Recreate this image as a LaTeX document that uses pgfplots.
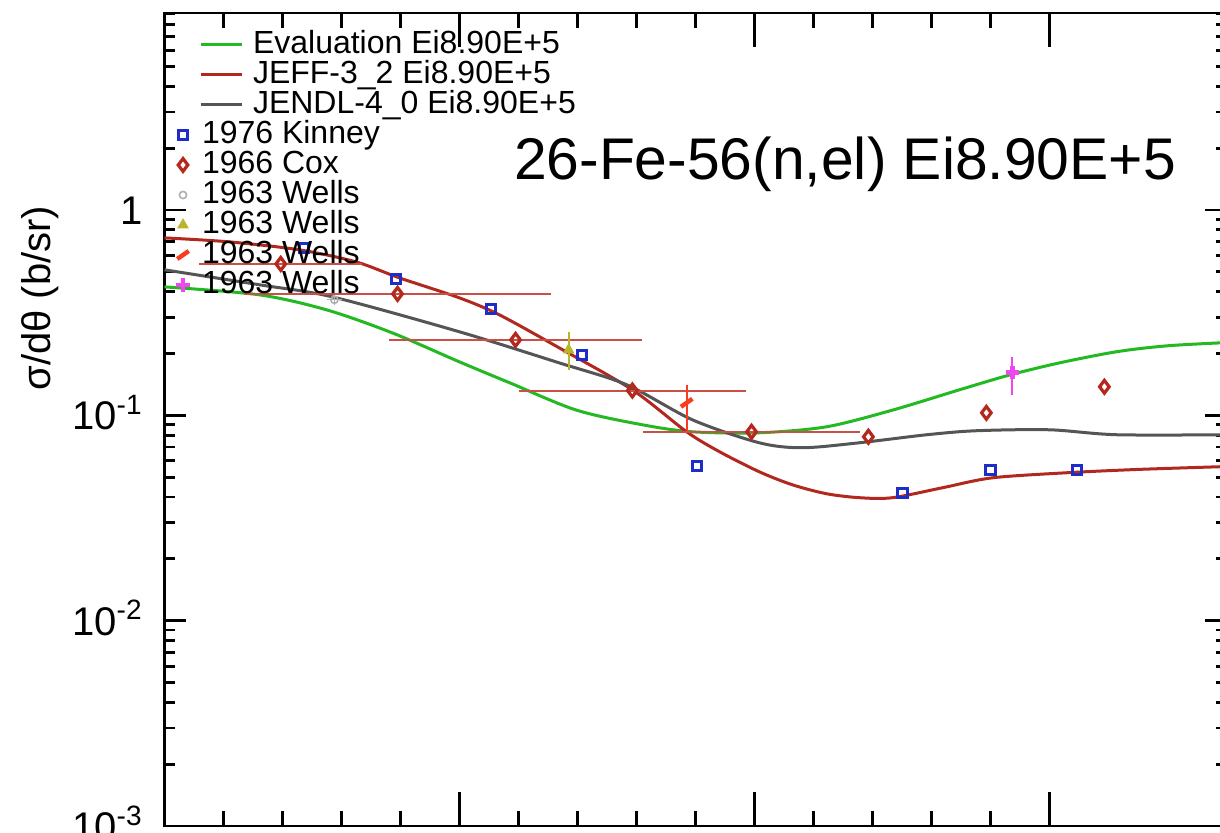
\documentclass[border=0pt]{standalone}
\usepackage{fontspec}
\setmainfont{Liberation Sans}
\usepackage{pgfplots}
\pgfplotsset{compat=1.18}
\definecolor{evalgreen}{RGB}{34,185,34}
\definecolor{jeffred}{RGB}{178,40,30}
\definecolor{jendlgray}{RGB}{85,85,85}
\definecolor{kinney}{RGB}{30,45,200}
\definecolor{cox}{RGB}{180,40,30}
\definecolor{coxbar}{RGB}{200,80,70}
\definecolor{wellsgray}{RGB}{175,175,175}
\definecolor{wellsolive}{RGB}{185,180,40}
\definecolor{wellsred}{RGB}{250,60,30}
\definecolor{wellsmag}{RGB}{240,70,240}
\begin{document}
\begin{tikzpicture}
\begin{axis}[name=main,
  width=531pt, height=406.5pt, scale only axis,
  xmin=0, xmax=180, ymin=1e-3, ymax=9.1, ymode=log,
  axis line style={line width=1.4pt},
  every tick/.style={black, line width=1.4pt},
  xtick=\empty,
  major tick length=11pt, minor tick length=5.5pt,
  yticklabel={\pgfmathparse{int(round(\tick/ln(10)))}\ifnum\pgfmathresult=0 1\else 10\textsuperscript{\pgfmathresult}\fi},
  yticklabel style={font=\fontsize{20}{22}\selectfont, anchor=base east, inner sep=0pt, xshift=-10.75pt, yshift=-7.2pt},
  ylabel={σ/dθ (b/sr)},
  every axis y label/.style={at={(axis description cs:-0.1172,0.6494)}, rotate=90, anchor=center, font=\fontsize{20}{22}\selectfont},
  legend style={at={(axis description cs:0.0325,0.9803)}, anchor=north west, draw=none, fill=none, inner sep=0pt, outer sep=0pt, column sep=5pt, font=\fontsize{16}{18}\selectfont, nodes={inner sep=0pt, text height=12pt, text depth=3pt}},
  legend cell align=left,
  legend image code/.code={\draw[#1] (0pt,0pt) -- (20.5pt,0pt);},
]
\addplot[evalgreen, line width=1.5pt, smooth, mark=none] coordinates {
(0,0.422)(16.1,0.386)(27.5,0.326)(38.6,0.252)(50,0.182)(58.5,0.144)(69.8,0.106)(81,0.0899)(89.5,0.0831)(100.8,0.0822)(112.2,0.0879)(123.4,0.106)(134.7,0.133)(143.2,0.157)(151.7,0.180)(161.4,0.204)(170,0.218)(180,0.226)};
\addlegendentry{Evaluation Ei8.90E+5}
\addplot[jeffred, line width=1.5pt, smooth, mark=none] coordinates {
(0,0.731)(11.0,0.699)(22.9,0.639)(32.5,0.558)(39.8,0.467)(50,0.373)(56.8,0.308)(66.9,0.213)(79.3,0.133)(88.5,0.0831)(94.1,0.0664)(100.8,0.0531)(106.4,0.0459)(112.2,0.0415)(117.8,0.0397)(123.4,0.0397)(131.9,0.0444)(140.3,0.0496)(152.9,0.0525)(165,0.0545)(180,0.0563)};
\addlegendentry{JEFF-3\_2 Ei8.90E+5}
\addplot[jendlgray, line width=1.5pt, smooth, mark=none] coordinates {
(0,0.511)(16.1,0.432)(28.5,0.377)(50,0.255)(66.9,0.180)(78.3,0.141)(89.5,0.095)(100.8,0.0735)(108.1,0.0695)(117.8,0.0735)(129.2,0.0804)(137.6,0.0841)(150,0.0850)(161.4,0.0804)(180,0.0804)};
\addlegendentry{JENDL-4\_0 Ei8.90E+5}
\node[font=\fontsize{29.4}{31}\selectfont, anchor=base] at (axis description cs:0.6408,0.7946) {26-Fe-56(n,el) Ei8.90E+5};
\end{axis}
\begin{axis}[
  width=531pt, height=406.5pt, scale only axis,
  xmin=0, xmax=180, ymin=1e-3, ymax=9.1, ymode=log,
  axis line style={line width=1.4pt},
  every tick/.style={black, line width=1.4pt},
  hide y axis,
  xtick={0,50,100,150}, minor x tick num=4, xticklabel=\empty,
  major tick length=17pt, minor tick length=7.5pt,
  legend style={at={(axis description cs:0.0099,0.8684)}, anchor=north west, draw=none, fill=none, inner sep=0pt, outer sep=0pt, column sep=5.5pt, font=\fontsize{16}{18}\selectfont, nodes={inner sep=0pt, text height=12pt, text depth=3pt}},
  legend cell align=left,
  legend image code/.code={\path[draw=none] (-4pt,0pt) -- (4pt,0pt); \draw[#1] plot coordinates {(0pt,0pt)};},
]
\addplot[only marks, kinney, mark=square, mark size=2.3pt, line width=1.5pt] coordinates {
(23.7,0.653)(39.3,0.462)(55.3,0.330)(70.7,0.197)(90.3,0.0568)(125.1,0.0420)(140,0.0543)(154.7,0.0543)};
\addlegendentry{1976 Kinney}
\addplot[only marks, cox, mark=diamond, mark size=3.2pt, line width=1.6pt,
  error bars/.cd, x dir=both, x explicit, error mark=none, error bar style={coxbar, line width=1pt}] coordinates {
(19.7,0.546) +- (13.8,0)
(39.5,0.390) +- (26,0)
(59.5,0.233) +- (21.5,0)
(79.3,0.132) +- (19.3,0)
(99.5,0.0831) +- (18.4,0)
(119.3,0.0786) +- (0,0)
(139.3,0.1028) +- (0,0)
(159.3,0.1377) +- (0,0)};
\addlegendentry{1966 Cox}
\addplot[only marks, wellsgray, mark=o, mark size=1.8pt, line width=0.8pt,
  error bars/.cd, x dir=both, x explicit, y dir=both, y explicit, error mark=none] coordinates {
(28.8,0.365) +- (1.2,0.02)};
\addlegendentry{1963 Wells}
\addplot[only marks, wellsolive, mark=triangle*, mark size=3pt,
  error bars/.cd, y dir=both, y explicit, error mark=none, error bar style={line width=1pt}] coordinates {
(68.5,0.208) += (0,0.047) -= (0,0.042)};
\addlegendentry{1963 Wells}
\addplot[only marks, wellsred, mark=|, mark size=3.5pt, mark options={rotate=-55, line width=2.2pt},
  error bars/.cd, y dir=both, y explicit, error mark=none, error bar style={line width=1pt}] coordinates {
(88.5,0.115) += (0,0.026) -= (0,0.032)};
\addlegendentry{1963 Wells}
\addplot[only marks, wellsmag, mark=+, mark size=3.3pt, mark options={line width=2.4pt},
  error bars/.cd, y dir=both, y explicit, error mark=none, error bar style={line width=1pt}] coordinates {
(143.7,0.161) += (0,0.032) -= (0,0.035)};
\addlegendentry{1963 Wells}
\end{axis}
\pgfresetboundingbox
\useasboundingbox ([shift={(-82.25pt,-3.5pt)}]main.south west) rectangle ([shift={(527.75pt,413pt)}]main.south west);
\end{tikzpicture}
\end{document}
